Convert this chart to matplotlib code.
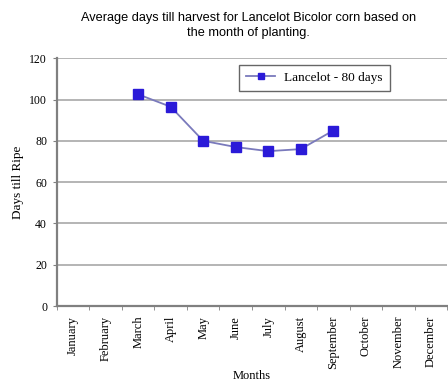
import matplotlib

matplotlib.use("Agg")

import matplotlib.pyplot as plt
import numpy as np

months = ["January", "February", "March", "April", "May", "June", "July",
          "August", "September", "October", "November", "December"]
planted_months = ["March", "April", "May", "June", "July", "August", "September"]
days_till_ripe = [102.5, 96.5, 80, 77, 75, 76, 85]
y_ticks = [0, 20, 40, 60, 80, 100, 120]

serif = "Liberation Serif"
sans = "Liberation Sans"

fig = plt.figure(figsize=(4.48, 3.88), dpi=100)
fig.patch.set_facecolor("white")
ax = fig.add_axes([0.127, 0.211, 0.871, 0.639])

x = np.array([months.index(m) for m in planted_months])
ax.plot(x, days_till_ripe, color="#7a7abc", linewidth=1.3, marker="s",
        markersize=6.5, markerfacecolor="#2a1ad8", markeredgecolor="#2a1ad8",
        label="Lancelot - 80 days", zorder=3)

ax.set_xlim(-0.5, len(months) - 0.5)
ax.set_ylim(0, 120)
ax.set_yticks(y_ticks)
ax.set_yticklabels([str(v) for v in y_ticks], fontsize=8.5, family=serif)
ax.set_xticks(np.arange(len(months)))
ax.set_xticklabels(months, rotation=90, fontsize=9, family=serif)
ax.tick_params(axis="x", length=0, pad=7)
# tick marks sit between the month categories
ax.set_xticks(np.arange(len(months) + 1) - 0.5, minor=True)
ax.tick_params(axis="x", which="minor", length=3, color="#808080")
ax.tick_params(axis="y", length=3, color="#808080", pad=4)

for v in y_ticks[1:]:
    ax.axhline(v, color="#a8a8a8", linewidth=1.2, zorder=1)

for side in ("top", "right"):
    ax.spines[side].set_visible(False)
for side in ("left", "bottom"):
    ax.spines[side].set_color("#808080")
    ax.spines[side].set_linewidth(1.6)

ax.set_ylabel("Days till Ripe", fontsize=9.5, family=serif, labelpad=4)
fig.text(0.563, 0.015, "Months", ha="center", va="bottom", fontsize=9, family=serif)

leg = ax.legend(loc="upper center", bbox_to_anchor=(0.66, 0.985),
                prop={"family": serif, "size": 9.5}, frameon=True, fancybox=False,
                markerscale=0.6, handlelength=2.2, handletextpad=0.7,
                borderpad=0.55, borderaxespad=0.2)
leg.get_frame().set_edgecolor("#404040")
leg.get_frame().set_linewidth(1.0)

fig.text(0.555, 0.935, "Average days till harvest for Lancelot Bicolor corn based on\nthe month of planting.",
         ha="center", va="center", fontsize=9.2, family=sans, linespacing=1.35)

fig.savefig("out.png", dpi=100)
